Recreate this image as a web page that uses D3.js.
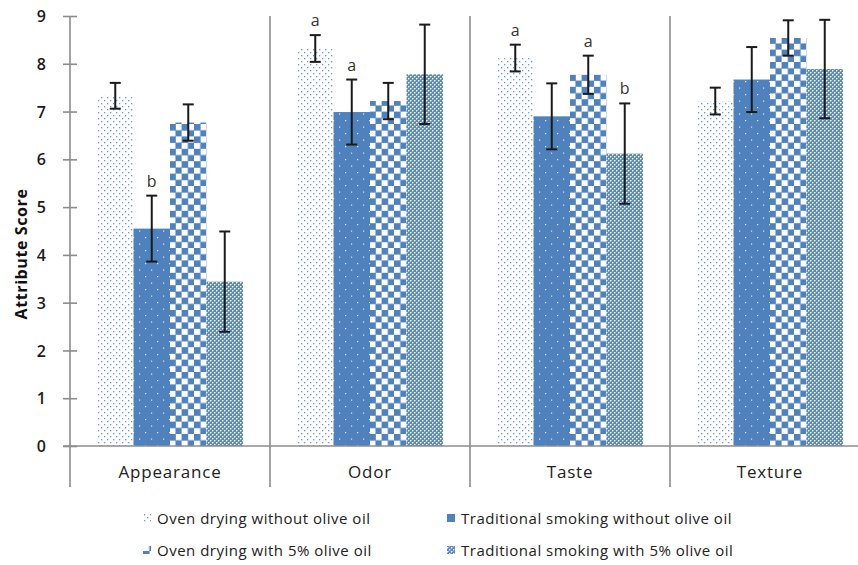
<!DOCTYPE html>
<html>
<head>
<meta charset="utf-8">
<script src="https://cdn.jsdelivr.net/npm/d3@7"></script>
<style>
  html, body { margin: 0; padding: 0; background: #fff; }
  svg { display: block; font-family: "Open Sans", "DejaVu Sans", sans-serif; }
</style>
</head>
<body>
<svg id="chart" width="858" height="565"></svg>
<script>
// Sensory attribute scores (mean ± error) for four drying/smoking treatments
const categories = ["Appearance", "Odor", "Taste", "Texture"];
const seriesNames = [
  "Oven drying without olive oil",
  "Traditional smoking without olive oil",
  "Oven drying with 5% olive oil",
  "Traditional smoking with 5% olive oil"
];
const ovenNoOil      = [7.33, 8.32, 8.12, 7.22];
const smokeNoOil     = [4.55, 6.99, 6.90, 7.67];
const oven5Oil       = [6.77, 7.22, 7.77, 8.54];
const smoke5Oil      = [3.44, 7.78, 6.12, 7.89];
const errOvenNoOil   = [0.27, 0.28, 0.28, 0.28];
const errSmokeNoOil  = [0.69, 0.68, 0.69, 0.68];
const errOven5Oil    = [0.38, 0.38, 0.40, 0.37];
const errSmoke5Oil   = [1.05, 1.04, 1.05, 1.03];
// significance letters: [category, series index, letter]
const letters = [
  ["Appearance", 1, "b"],
  ["Odor", 0, "a"], ["Odor", 1, "a"],
  ["Taste", 0, "a"], ["Taste", 2, "a"], ["Taste", 3, "b"]
];
const yTicks = [0, 1, 2, 3, 4, 5, 6, 7, 8, 9];

const values = [ovenNoOil, smokeNoOil, oven5Oil, smoke5Oil];
const errors = [errOvenNoOil, errSmokeNoOil, errOven5Oil, errSmoke5Oil];

const svg = d3.select("#chart");
const blue = "#4F81BD";
const axisColor = "#8c8c8c";

// Fill patterns for the four treatments
const defs = svg.append("defs");
// 1: sparse blue dots on white
const p0 = defs.append("pattern").attr("id", "pat0").attr("patternUnits", "userSpaceOnUse")
  .attr("width", 6).attr("height", 6);
p0.append("rect").attr("width", 6).attr("height", 6).attr("fill", "#fff");
p0.append("rect").attr("x", 1).attr("y", 1).attr("width", 1.3).attr("height", 1.3).attr("fill", "#6f98cc");
p0.append("rect").attr("x", 4).attr("y", 4).attr("width", 1.3).attr("height", 1.3).attr("fill", "#6f98cc");
// 2: solid blue with small white dots
const p1 = defs.append("pattern").attr("id", "pat1").attr("patternUnits", "userSpaceOnUse")
  .attr("width", 12).attr("height", 13);
p1.append("rect").attr("width", 12).attr("height", 13).attr("fill", blue);
p1.append("rect").attr("x", 3).attr("y", 3).attr("width", 1.2).attr("height", 1.2).attr("fill", "#dfe8f4");
p1.append("rect").attr("x", 9).attr("y", 9.5).attr("width", 1.2).attr("height", 1.2).attr("fill", "#dfe8f4");
// 3: large checkerboard
const p2 = defs.append("pattern").attr("id", "pat2").attr("patternUnits", "userSpaceOnUse")
  .attr("width", 12.4).attr("height", 12.4);
p2.append("rect").attr("width", 12.4).attr("height", 12.4).attr("fill", "#fff");
p2.append("rect").attr("x", 0).attr("y", 0).attr("width", 6.6).attr("height", 6.6).attr("fill", blue);
p2.append("rect").attr("x", 6.2).attr("y", 6.2).attr("width", 6.6).attr("height", 6.6).attr("fill", blue);
// 4: fine blue lattice with light crosses
const p3 = defs.append("pattern").attr("id", "pat3").attr("patternUnits", "userSpaceOnUse")
  .attr("width", 4).attr("height", 4);
p3.append("rect").attr("width", 4).attr("height", 4).attr("fill", "#5a8ac6");
p3.append("rect").attr("x", 0).attr("y", 0).attr("width", 1).attr("height", 1).attr("fill", "#ffffff");
p3.append("rect").attr("x", 2).attr("y", 2).attr("width", 1).attr("height", 1).attr("fill", "#ffffff");
p3.append("rect").attr("x", 1).attr("y", 0).attr("width", 1).attr("height", 1).attr("fill", "#a9c3e4");
p3.append("rect").attr("x", 0).attr("y", 1).attr("width", 1).attr("height", 1).attr("fill", "#a9c3e4");
p3.append("rect").attr("x", 3).attr("y", 2).attr("width", 1).attr("height", 1).attr("fill", "#a9c3e4");
p3.append("rect").attr("x", 2).attr("y", 3).attr("width", 1).attr("height", 1).attr("fill", "#a9c3e4");
const fills = ["url(#pat0)", "url(#pat1)", "url(#pat2)", "url(#pat3)"];

// Scales
const x0 = d3.scaleBand().domain(categories).range([70, 870]).padding(0);
const x1 = d3.scaleBand().domain(d3.range(seriesNames.length))
  .range([0, x0.bandwidth()]).paddingInner(0).paddingOuter(0.74);
const y = d3.scaleLinear().domain([0, 9]).range([446, 16]);

const plotBottom = 487;

// Bars
const groups = svg.append("g").selectAll("g").data(categories).join("g")
  .attr("transform", c => `translate(${x0(c)},0)`);
groups.selectAll("rect.bar")
  .data((c, ci) => values.map((s, si) => ({ si, v: s[ci], e: errors[si][ci] })))
  .join("rect").attr("class", "bar")
  .attr("x", d => x1(d.si))
  .attr("y", d => y(d.v))
  .attr("width", x1.bandwidth())
  .attr("height", d => y(0) - y(d.v))
  .attr("fill", d => fills[d.si]);

// Axis lines and category separators
const axes = svg.append("g").attr("stroke", axisColor).attr("stroke-width", 1.6);
axes.append("line").attr("x1", 70).attr("x2", 70).attr("y1", y(9)).attr("y2", plotBottom);
axes.append("line").attr("x1", 63).attr("x2", 858).attr("y1", y(0)).attr("y2", y(0));
categories.slice(1).forEach(c => {
  axes.append("line").attr("x1", x0(c)).attr("x2", x0(c)).attr("y1", y(9)).attr("y2", plotBottom);
});
// Y axis ticks crossing the axis line
const yAxis = d3.axisLeft(y).tickValues(yTicks).tickSizeInner(7).tickSizeOuter(0).tickPadding(17)
  .tickFormat(d3.format("d"));
const yg = svg.append("g").attr("transform", "translate(70,0)").call(yAxis);
yg.select(".domain").remove();
yg.selectAll(".tick line").attr("x2", 7).attr("x1", -7).attr("stroke", axisColor).attr("stroke-width", 1.6);
yg.selectAll(".tick text").attr("fill", "#1a1a1a").style("font-size", "16px")
  .style("font-weight", "600")
  .style("font-family", "'Open Sans', sans-serif").attr("dy", "0.35em");

// Error bars
const eg = svg.append("g").attr("stroke", "#1a1a1a").attr("stroke-width", 2);
categories.forEach((c, ci) => {
  values.forEach((s, si) => {
    const cx = x0(c) + x1(si) + x1.bandwidth() / 2;
    const v = s[ci], e = errors[si][ci];
    eg.append("line").attr("x1", cx).attr("x2", cx).attr("y1", y(v + e)).attr("y2", y(v - e));
    eg.append("line").attr("x1", cx - 5.5).attr("x2", cx + 5.5).attr("y1", y(v + e)).attr("y2", y(v + e));
    eg.append("line").attr("x1", cx - 5.5).attr("x2", cx + 5.5).attr("y1", y(v - e)).attr("y2", y(v - e));
  });
});

// Significance letters above error bars
svg.append("g").selectAll("text").data(letters).join("text")
  .attr("x", d => x0(d[0]) + x1(d[1]) + x1.bandwidth() / 2)
  .attr("y", d => {
    const ci = categories.indexOf(d[0]);
    return y(values[d[1]][ci] + errors[d[1]][ci]) - 9;
  })
  .attr("text-anchor", "middle")
  .style("font-size", "16px").attr("fill", "#333")
  .text(d => d[2]);

// Category labels
svg.append("g").selectAll("text").data(categories).join("text")
  .attr("x", c => x0(c) + x0.bandwidth() / 2)
  .attr("y", 478)
  .attr("text-anchor", "middle")
  .style("font-size", "17px").style("letter-spacing", "0.8px").attr("fill", "#222")
  .text(c => c);

// Y axis title
svg.append("text")
  .attr("transform", "translate(27,254) rotate(-90)")
  .attr("text-anchor", "middle")
  .style("font-size", "16px").style("font-weight", "bold").style("letter-spacing", "0.6px")
  .attr("fill", "#111")
  .text("Attribute Score");

// Legend (two rows, two columns)
const legendPos = [[143, 519], [447, 519], [143, 551], [447, 551]];
const lg = svg.append("g").selectAll("g").data(seriesNames).join("g")
  .attr("transform", (d, i) => `translate(${legendPos[i][0]},${legendPos[i][1]})`);
lg.append("rect").attr("x", 0).attr("y", -5).attr("width", 8).attr("height", 8)
  .attr("fill", (d, i) => fills[i]);
lg.append("text").attr("x", 14).attr("y", 0).attr("dy", "0.35em")
  .style("font-size", "15px").style("letter-spacing", "0.5px").attr("fill", "#222")
  .text(d => d);
</script>
</body>
</html>
